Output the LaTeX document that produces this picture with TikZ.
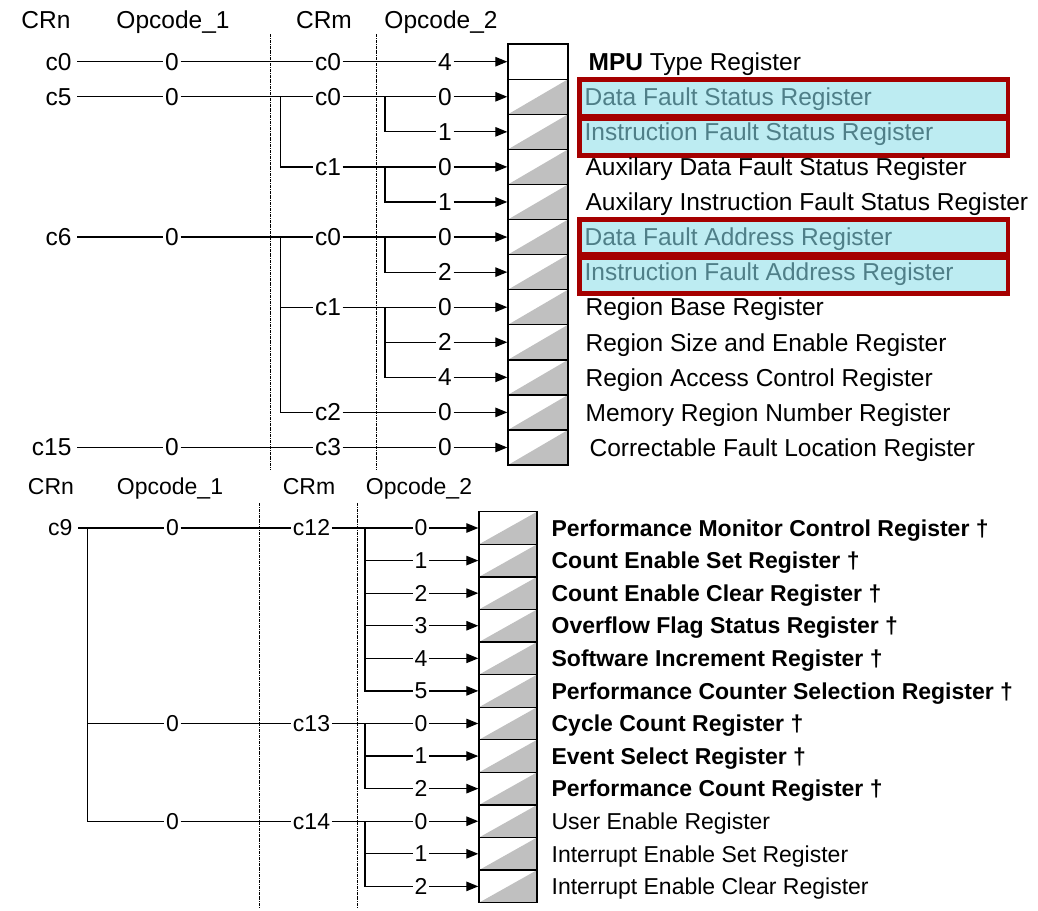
\documentclass[tikz,border=0pt]{standalone}
\usepackage{fontspec}
\setmainfont{Liberation Sans}
\usetikzlibrary{arrows.meta,positioning}

\definecolor{cellgray}{HTML}{C0C0C0}
\definecolor{hlred}{HTML}{A50000}
\definecolor{hlcyan}{HTML}{BDECF2}
\definecolor{hltext}{HTML}{4F7F88}

\newcommand\upfnt{\fontsize{24.5}{28}\selectfont}
\newcommand\lofnt{\fontsize{23}{26}\selectfont}

\tikzset{
  plaincell/.style={draw, line width=1.4pt, inner sep=0pt},
  cell/.style={plaincell, path picture={\fill[cellgray] (path picture bounding box.south west) -- (path picture bounding box.south east) -- (path picture bounding box.north east) -- cycle;}},
  lab/.style={inner sep=1.2pt},
  crn/.style={lab, anchor=east, inner xsep=5pt},
  hd/.style={anchor=base, inner sep=0pt},
  reg/.style={anchor=base west, inner sep=0pt},
  arr/.style={-{Triangle[length=12pt,width=9.5pt]}},
  sep/.style={line width=0.8pt, densely dash dot},
  hl/.style={draw=hlred, fill=hlcyan, line width=4.5pt}
}

\begin{document}
\begin{tikzpicture}[x=1pt,y=-1pt,line width=1.2pt]
\useasboundingbox (0,0) rectangle (1038,910);

% upper table
\begin{scope}[font=\upfnt]
\node[plaincell, minimum width=60pt, minimum height=35.07pt] (t0) at (538,61.7) {};
\foreach \i in {1,...,11}
  \node[cell, minimum width=60pt, minimum height=35.07pt] (t\i) at (538,{61.7+35.07*\i}) {};

\draw[hl] (579.5,79.5) rectangle (1008,116);
\draw[hl] (579.5,119) rectangle (1008,155.5);
\draw[hl] (579.5,219.5) rectangle (1008,254.5);
\draw[hl] (579.5,258) rectangle (1008,293.5);

\draw[sep] (270.7,34) -- (270.7,470);
\draw[sep] (376,34) -- (376,470);

\node[hd] (crn1) at (46,28) {CRn};
\node[hd] (opa1) at (173,28) {Opcode\_1};
\node[hd] (crm1) at (324,28) {CRm};
\node[hd] (opb1) at (441,28) {Opcode\_2};

\foreach \i/\d in {0/4,1/0,2/1,3/0,4/1,5/0,6/2,7/0,8/2,9/4,10/0,11/0}
  \node[lab] (p\i) at (445,0 |- t\i) {\d};

\node[crn] (n0) at (77,0 |- t0) {c0};
\node[lab] (a0) at (172,0 |- t0) {0};
\node[lab] (m0) at (328,0 |- t0) {c0};
\draw (n0) -- (a0) -- (m0) -- (p0);

\node[crn] (n5) at (77,0 |- t1) {c5};
\node[lab] (a1) at (172,0 |- t1) {0};
\node[lab] (m1) at (328,0 |- t1) {c0};
\coordinate (j1) at (280.7,0 |- t1);
\coordinate (k1) at (385,0 |- t1);
\draw (n5) -- (a1) -- (m1) -- (p1);
\draw (k1) |- (p2);
\node[lab] (m3) at (328,0 |- t3) {c1};
\coordinate (k3) at (385,0 |- t3);
\draw (j1) |- (m3) -- (p3);
\draw (k3) |- (p4);

\node[crn] (n6) at (77,0 |- t5) {c6};
\node[lab] (a5) at (172,0 |- t5) {0};
\node[lab] (m5) at (328,0 |- t5) {c0};
\coordinate (j5) at (280.7,0 |- t5);
\coordinate (k5) at (385,0 |- t5);
\draw (n6) -- (a5) -- (m5) -- (p5);
\draw (k5) |- (p6);
\node[lab] (m7) at (328,0 |- t7) {c1};
\coordinate (k7) at (385,0 |- t7);
\draw (j5) |- (m7) -- (p7);
\draw (k7) |- (p8);
\draw (k7) |- (p9);
\node[lab] (m10) at (328,0 |- t10) {c2};
\draw (j5) |- (m10) -- (p10);

\node[crn] (n15) at (77,0 |- t11) {c15};
\node[lab] (a11) at (172,0 |- t11) {0};
\node[lab] (m11) at (328,0 |- t11) {c3};
\draw (n15) -- (a11) -- (m11) -- (p11);

\foreach \i in {0,...,11}
  \draw[arr] (p\i) -- (t\i);

\begin{scope}[every node/.style={reg, yshift=-8.8pt}]
\node (l0) at (588,0 |- t0) {\textbf{MPU} Type Register};
\node[text=hltext] (l1) at (584,0 |- t1) {Data Fault Status Register};
\node[text=hltext] (l2) at (584,0 |- t2) {Instruction Fault Status Register};
\node[text=hltext] (l5) at (584,0 |- t5) {Data Fault Address Register};
\node[text=hltext] (l6) at (584,0 |- t6) {Instruction Fault Address Register};
\node (l11) at (589,0 |- t11) {Correctable Fault Location Register};
\foreach \i/\txt in {3/Auxilary Data Fault Status Register,4/Auxilary Instruction Fault Status Register,
    7/Region Base Register,8/Region Size and Enable Register,9/Region Access Control Register,
    10/Memory Region Number Register}
  \node (l\i) at (585,0 |- t\i) {\txt};
\end{scope}
\end{scope}

% lower table
\begin{scope}[font=\lofnt]
\foreach \i in {0,...,11}
  \node[cell, minimum width=58pt, minimum height=32.58pt] (u\i) at (508,{528+32.58*\i}) {};

\draw[sep] (259.3,503) -- (259.3,908);
\draw[sep] (357.3,503) -- (357.3,908);

\node[hd] (crn2) at (51,494.5) {CRn};
\node[hd] (opa2) at (170,494.5) {Opcode\_1};
\node[hd] (crm2) at (309,494.5) {CRm};
\node[hd] (opb2) at (419,494.5) {Opcode\_2};

\foreach \i/\d in {0/0,1/1,2/2,3/3,4/4,5/5,6/0,7/1,8/2,9/0,10/1,11/2}
  \node[lab] (s\i) at (421,0 |- u\i) {\d};

\node[crn] (q9) at (78,0 |- u0) {c9};
\coordinate (jj) at (87.5,0 |- u0);
\node[lab] (b0) at (172.5,0 |- u0) {0};
\node[lab] (c12) at (311.5,0 |- u0) {c12};
\coordinate (kk0) at (365,0 |- u0);
\draw (q9) -- (b0) -- (c12) -- (s0);
\foreach \i in {1,...,5}
  \draw (kk0) |- (s\i);

\node[lab] (b6) at (172.5,0 |- u6) {0};
\node[lab] (c13) at (311.5,0 |- u6) {c13};
\coordinate (kk6) at (365,0 |- u6);
\draw (jj) |- (b6) -- (c13) -- (s6);
\foreach \i in {7,8}
  \draw (kk6) |- (s\i);

\node[lab] (b9) at (172.5,0 |- u9) {0};
\node[lab] (c14) at (311.5,0 |- u9) {c14};
\coordinate (kk9) at (365,0 |- u9);
\draw (jj) |- (b9) -- (c14) -- (s9);
\foreach \i in {10,11}
  \draw (kk9) |- (s\i);

\foreach \i in {0,...,11}
  \draw[arr] (s\i) -- (u\i);

\begin{scope}[every node/.style={reg, yshift=-8.2pt}]
\foreach \i/\txt in {0/Performance Monitor Control Register,1/Count Enable Set Register,
    2/Count Enable Clear Register,3/Overflow Flag Status Register,4/Software Increment Register,
    5/Performance Counter Selection Register,6/Cycle Count Register,7/Event Select Register,
    8/Performance Count Register}
  \node[font=\lofnt\bfseries] (r\i) at (551,0 |- u\i) {\txt\ †};
\node (r9) at (551,0 |- u9) {User Enable Register};
\node (r10) at (551,0 |- u10) {Interrupt Enable Set Register};
\node (r11) at (551,0 |- u11) {Interrupt Enable Clear Register};
\end{scope}
\end{scope}
\end{tikzpicture}
\end{document}
